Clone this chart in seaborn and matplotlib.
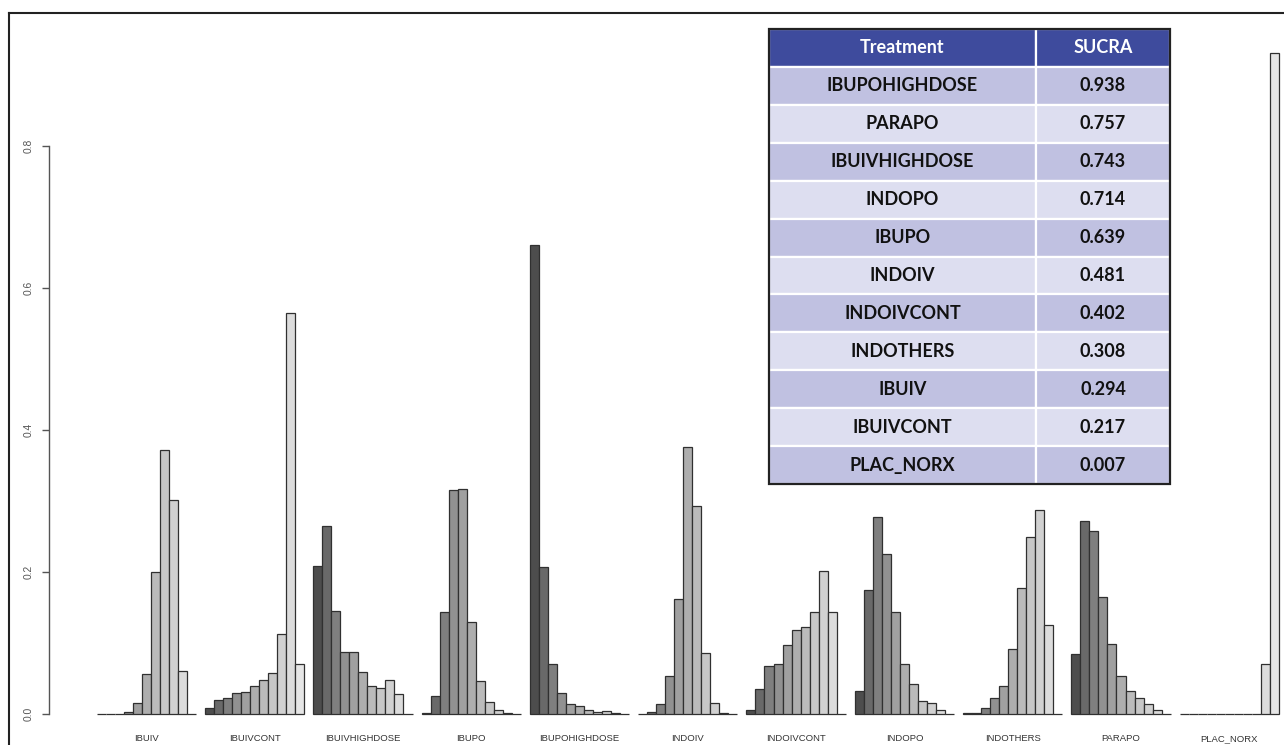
import numpy as np
import pandas as pd
import matplotlib.pyplot as plt
from matplotlib.lines import Line2D
from matplotlib.patches import Rectangle
import seaborn as sns

# ── Rank probabilities (rank 1 .. 11) per treatment ─────────────────
TREATMENTS = ["IBUIV", "IBUIVCONT", "IBUIVHIGHDOSE", "IBUPO", "IBUPOHIGHDOSE",
              "INDOIV", "INDOIVCONT", "INDOPO", "INDOTHERS", "PARAPO", "PLAC_NORX"]

IBUIV         = [0.000, 0.000, 0.000, 0.003, 0.015, 0.056, 0.200, 0.371, 0.302, 0.061, 0.000]
IBUIVCONT     = [0.009, 0.020, 0.022, 0.029, 0.031, 0.040, 0.048, 0.058, 0.112, 0.565, 0.070]
IBUIVHIGHDOSE = [0.209, 0.265, 0.145, 0.087, 0.087, 0.059, 0.039, 0.036, 0.048, 0.028, 0.000]
IBUPO         = [0.002, 0.026, 0.143, 0.316, 0.317, 0.129, 0.046, 0.017, 0.006, 0.002, 0.000]
IBUPOHIGHDOSE = [0.661, 0.207, 0.070, 0.030, 0.014, 0.011, 0.005, 0.003, 0.004, 0.001, 0.000]
INDOIV        = [0.000, 0.003, 0.014, 0.053, 0.162, 0.376, 0.293, 0.086, 0.016, 0.001, 0.000]
INDOIVCONT    = [0.006, 0.035, 0.067, 0.071, 0.097, 0.118, 0.122, 0.143, 0.202, 0.143, 0.000]
INDOPO        = [0.033, 0.174, 0.277, 0.225, 0.143, 0.070, 0.042, 0.019, 0.015, 0.006, 0.000]
INDOTHERS     = [0.001, 0.002, 0.009, 0.022, 0.040, 0.092, 0.177, 0.249, 0.287, 0.125, 0.000]
PARAPO        = [0.085, 0.272, 0.258, 0.165, 0.098, 0.054, 0.032, 0.022, 0.014, 0.006, 0.000]
PLAC_NORX     = [0.000, 0.000, 0.000, 0.000, 0.000, 0.000, 0.000, 0.000, 0.000, 0.070, 0.930]

RANKS = [str(r) for r in range(1, 12)]
Y_TICKS = [0.0, 0.2, 0.4, 0.6, 0.8]

# ── SUCRA table ─────────────────────────────────────────────────────
TABLE_TREATMENTS = ["IBUPOHIGHDOSE", "PARAPO", "IBUIVHIGHDOSE", "INDOPO", "IBUPO",
                    "INDOIV", "INDOIVCONT", "INDOTHERS", "IBUIV", "IBUIVCONT", "PLAC_NORX"]
TABLE_SUCRA = ["0.938", "0.757", "0.743", "0.714", "0.639",
               "0.481", "0.402", "0.308", "0.294", "0.217", "0.007"]

probs = {
    "IBUIV": IBUIV, "IBUIVCONT": IBUIVCONT, "IBUIVHIGHDOSE": IBUIVHIGHDOSE,
    "IBUPO": IBUPO, "IBUPOHIGHDOSE": IBUPOHIGHDOSE, "INDOIV": INDOIV,
    "INDOIVCONT": INDOIVCONT, "INDOPO": INDOPO, "INDOTHERS": INDOTHERS,
    "PARAPO": PARAPO, "PLAC_NORX": PLAC_NORX,
}
df = pd.DataFrame(
    [(t, r, p) for t in TREATMENTS for r, p in zip(RANKS, probs[t])],
    columns=["treatment", "rank", "prob"],
)

# R-style grey.colors(11): gamma-corrected ramp from 0.3 to 0.9
levels = np.linspace(0.3 ** 2.2, 0.9 ** 2.2, len(RANKS)) ** (1 / 2.2)
grays = [(v, v, v) for v in levels]

W, H = 1284, 745
fig = plt.figure(figsize=(W / 100, H / 100), dpi=100)
fig.patch.set_facecolor("white")

ax = fig.add_axes([49 / W, 1 - 730 / H, (W - 49) / W, 700 / H])
sns.barplot(
    data=df, x="treatment", y="prob", hue="rank",
    order=TREATMENTS, hue_order=RANKS, palette=grays,
    width=11 / 12, edgecolor="#303030", linewidth=0.9,
    errorbar=None, legend=False, ax=ax,
)

ax.set_xlim(-0.898, 10.505)
ax.set_ylim(-0.0225, 0.963)
ax.set_xlabel("")
ax.set_ylabel("")
ax.set_facecolor("none")

ax.spines[["top", "right", "bottom"]].set_visible(False)
ax.spines["left"].set_bounds(0, 0.8)
ax.spines["left"].set_color("#555555")
ax.spines["left"].set_linewidth(1.0)

ax.set_yticks(Y_TICKS)
ax.set_yticklabels([f"{v:.1f}" for v in Y_TICKS], rotation=90, va="center",
                   fontsize=7.4, color="#555555", family="Liberation Sans")
ax.tick_params(axis="y", length=5, width=1.0, color="#555555", pad=6)

ax.set_xticks(range(len(TREATMENTS)))
ax.set_xticklabels(TREATMENTS, fontsize=6.8, color="#333333", family="Liberation Sans")
ax.tick_params(axis="x", length=0, pad=3)

# ── SUCRA inset table ───────────────────────────────────────────────
tax = fig.add_axes([769 / W, 1 - 484 / H, 401 / W, 455 / H])
tax.axis("off")
table = tax.table(
    cellText=[[t, s] for t, s in zip(TABLE_TREATMENTS, TABLE_SUCRA)],
    colLabels=["Treatment", "SUCRA"],
    cellLoc="center",
    colWidths=[267 / 401, 134 / 401],
    bbox=[0, 0, 1, 1],
)
table.auto_set_font_size(False)
table.set_fontsize(13)
for (r, c), cell in table.get_celld().items():
    cell.set_edgecolor("white")
    cell.set_linewidth(1.6)
    txt = cell.get_text()
    txt.set_fontfamily("Lato")
    txt.set_fontweight("bold")
    if r == 0:
        cell.set_facecolor("#3E4B9D")
        txt.set_color("white")
    else:
        cell.set_facecolor("#C0C1E1" if r % 2 == 1 else "#DDDEF0")
        txt.set_color("#111111")
tax.add_patch(Rectangle((0, 0), 1, 1, transform=tax.transAxes, fill=False,
                        edgecolor="#222222", linewidth=1.6, clip_on=False, zorder=20))

# ── outer frame (left and top edges visible) ────────────────────────
fig.add_artist(Line2D([9 / W, 9 / W], [0, 1 - 13 / H], color="#222222", lw=1.5))
fig.add_artist(Line2D([9 / W, 1], [1 - 13 / H, 1 - 13 / H], color="#222222", lw=1.5))

fig.savefig("out.png", dpi=100, facecolor="white")
